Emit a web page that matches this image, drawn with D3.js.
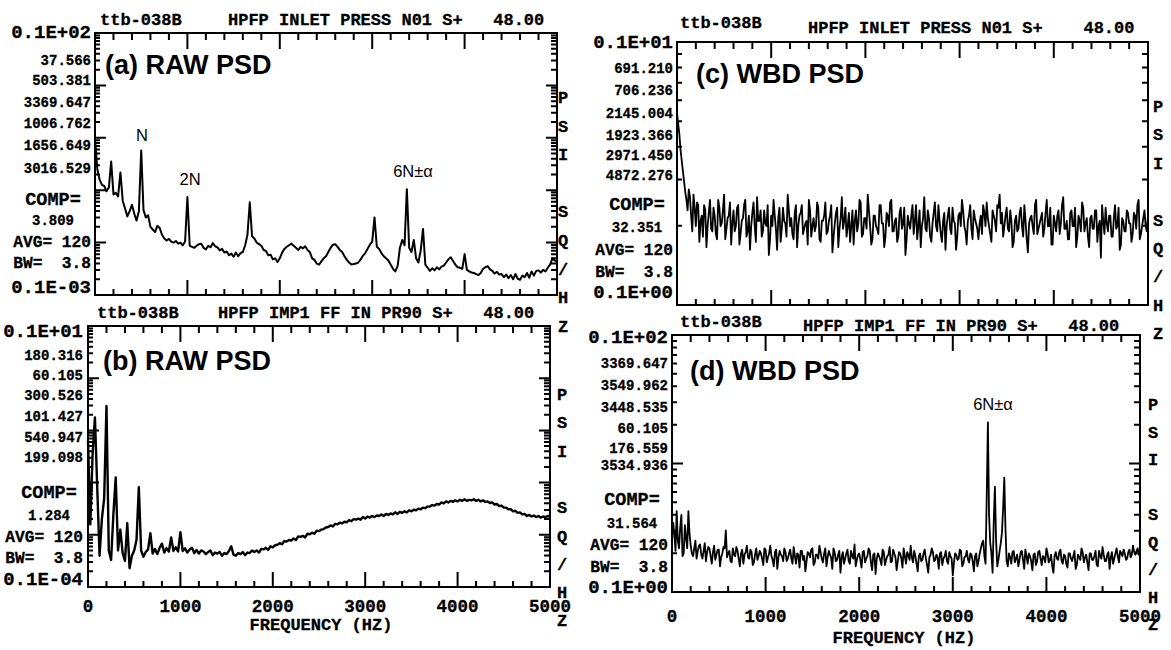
<!DOCTYPE html>
<html><head><meta charset="utf-8">
<script src="https://cdn.jsdelivr.net/npm/d3@7"></script>
<style>
html,body{margin:0;padding:0;background:#fff;}
svg{display:block;}
.mono{font-family:"Liberation Mono","DejaVu Sans Mono",monospace;font-weight:bold;fill:#000;stroke:#000;stroke-width:0.3;}
.sans{font-family:"Liberation Sans",Arial,sans-serif;fill:#000;}
</style>
</head><body>
<svg id="chart" width="1171" height="650"></svg>
<script>
// Four PSD plots of HPFP pressure signals, drawn with D3 scales.
// ---------------- DATA ----------------
const freqStep = 25;                 // Hz between spectral lines
const xMajorTicks = [0, 1000, 2000, 3000, 4000, 5000];
const xMinorStep = 200;

// log10 of PSD (PSI^2/Hz), one value every 25 Hz from 0 to 5000 Hz
const psdA_log10 = [
 -1.00,-1.60,-1.80,-1.90,-1.92,-2.02,-1.95,-1.45,
 -2.08,-2.05,-2.12,-1.66,-2.20,-2.35,-2.50,-2.40,
 -2.28,-2.45,-2.58,-2.40,-1.24,-2.38,-2.52,-2.48,
 -2.70,-2.75,-2.80,-2.68,-2.72,-2.85,-2.92,-2.96,
 -2.93,-2.98,-3.00,-2.97,-3.02,-3.00,-3.05,-2.98,
 -2.13,-3.06,-3.08,-3.10,-3.06,-3.03,-3.02,-3.10,
 -3.13,-3.06,-3.09,-3.01,-3.07,-3.09,-3.15,-3.12,
 -3.19,-3.17,-3.24,-3.21,-3.27,-3.19,-3.26,-3.20,
 -3.18,-3.05,-2.85,-2.23,-2.88,-2.92,-3.00,-3.03,
 -3.06,-3.14,-3.16,-3.24,-3.23,-3.32,-3.30,-3.37,
 -3.30,-3.19,-3.12,-3.08,-3.05,-3.02,-3.06,-3.10,
 -3.14,-3.08,-3.11,-3.07,-3.14,-3.18,-3.30,-3.33,
 -3.40,-3.42,-3.36,-3.30,-3.26,-3.18,-3.10,-3.04,
 -3.03,-3.08,-3.14,-3.18,-3.26,-3.33,-3.38,-3.42,
 -3.41,-3.40,-3.38,-3.32,-3.25,-3.20,-3.12,-3.04,
 -2.98,-2.52,-3.08,-3.12,-3.20,-3.26,-3.30,-3.34,
 -3.42,-3.50,-3.55,-3.45,-3.10,-2.95,-3.05,-1.98,
 -3.10,-3.18,-2.95,-3.30,-3.38,-3.15,-2.74,-3.42,
 -3.48,-3.54,-3.49,-3.53,-3.47,-3.51,-3.46,-3.44,
 -3.38,-3.32,-3.28,-3.35,-3.42,-3.47,-3.48,-3.50,
 -3.22,-3.52,-3.55,-3.57,-3.58,-3.60,-3.62,-3.58,
 -3.50,-3.47,-3.45,-3.51,-3.54,-3.59,-3.56,-3.61,
 -3.60,-3.66,-3.61,-3.68,-3.62,-3.70,-3.60,-3.69,
 -3.71,-3.63,-3.66,-3.58,-3.67,-3.55,-3.63,-3.54,
 -3.53,-3.57,-3.52,-3.55,-3.48,-3.42,-3.30,-3.34,
 -3.37
];
const psdB_log10 = [
 -2.20,-3.80,-2.45,-1.75,-3.10,-4.40,-3.70,-3.30,
 -1.53,-4.30,-4.48,-3.60,-2.90,-4.30,-3.90,-4.35,
 -4.50,-3.78,-4.64,-4.40,-4.30,-4.10,-3.09,-4.30,
 -4.42,-4.33,-4.28,-3.97,-4.36,-4.27,-4.37,-4.25,
 -4.17,-4.34,-4.26,-4.32,-4.05,-4.31,-4.24,-4.32,
 -3.95,-4.31,-4.26,-4.34,-4.28,-4.25,-4.35,-4.29,
 -4.36,-4.30,-4.32,-4.37,-4.33,-4.30,-4.39,-4.34,
 -4.36,-4.33,-4.40,-4.35,-4.37,-4.31,-4.22,-4.38,
 -4.40,-4.35,-4.37,-4.33,-4.39,-4.34,-4.35,-4.30,
 -4.33,-4.30,-4.34,-4.27,-4.28,-4.25,-4.29,-4.22,
 -4.24,-4.20,-4.19,-4.16,-4.18,-4.12,-4.13,-4.10,
 -4.11,-4.07,-4.10,-4.03,-4.04,-4.02,-4.05,-3.98,
 -3.99,-3.96,-3.98,-3.92,-3.93,-3.90,-3.89,-3.86,
 -3.85,-3.82,-3.84,-3.79,-3.80,-3.77,-3.78,-3.75,
 -3.76,-3.72,-3.74,-3.70,-3.71,-3.69,-3.71,-3.66,
 -3.69,-3.65,-3.67,-3.64,-3.66,-3.63,-3.64,-3.61,
 -3.64,-3.60,-3.62,-3.59,-3.61,-3.57,-3.60,-3.56,
 -3.58,-3.55,-3.57,-3.53,-3.55,-3.52,-3.53,-3.50,
 -3.51,-3.48,-3.49,-3.46,-3.46,-3.43,-3.44,-3.41,
 -3.42,-3.38,-3.40,-3.36,-3.38,-3.35,-3.37,-3.34,
 -3.36,-3.33,-3.35,-3.32,-3.35,-3.33,-3.34,-3.32,
 -3.35,-3.33,-3.36,-3.34,-3.37,-3.36,-3.39,-3.38,
 -3.42,-3.41,-3.45,-3.44,-3.48,-3.48,-3.51,-3.51,
 -3.55,-3.54,-3.58,-3.57,-3.61,-3.60,-3.64,-3.62,
 -3.65,-3.63,-3.66,-3.64,-3.67,-3.65,-3.66,-3.64,
 -3.65
];
const psdC_log10 = [
 -0.27,-0.35,-0.45,-0.53,-0.60,-0.56,-0.66,-0.58,
 -0.70,-0.62,-0.68,-0.74,-0.64,-0.70,-0.60,-0.72,
 -0.66,-0.75,-0.63,-0.69,-0.58,-0.71,-0.66,-0.77,
 -0.64,-0.70,-0.62,-0.73,-0.67,-0.60,-0.72,-0.79,
 -0.65,-0.70,-0.59,-0.68,-0.74,-0.64,-0.70,-0.81,
 -0.66,-0.60,-0.71,-0.67,-0.76,-0.63,-0.69,-0.58,
 -0.70,-0.73,-0.65,-0.78,-0.66,-0.62,-0.71,-0.68,
 -0.60,-0.74,-0.67,-0.70,-0.63,-0.76,-0.68,-0.61,
 -0.72,-0.66,-0.80,-0.69,-0.63,-0.71,-0.59,-0.68,
 -0.74,-0.65,-0.70,-0.77,-0.64,-0.69,-0.61,-0.73,
 -0.67,-0.58,-0.70,-0.75,-0.66,-0.71,-0.62,-0.69,
 -0.78,-0.65,-0.70,-0.60,-0.72,-0.67,-0.74,-0.63,
 -0.69,-0.81,-0.66,-0.71,-0.62,-0.68,-0.75,-0.64,
 -0.70,-0.59,-0.72,-0.67,-0.76,-0.65,-0.70,-0.62,
 -0.73,-0.68,-0.79,-0.66,-0.71,-0.63,-0.69,-0.74,
 -0.65,-0.60,-0.70,-0.77,-0.66,-0.71,-0.64,-0.69,
 -0.75,-0.66,-0.62,-0.70,-0.67,-0.73,-0.64,-0.68,
 -0.62,-0.58,-0.65,-0.70,-0.63,-0.72,-0.68,-0.76,
 -0.66,-0.71,-0.63,-0.74,-0.68,-0.80,-0.67,-0.70,
 -0.62,-0.73,-0.69,-0.65,-0.71,-0.60,-0.70,-0.77,
 -0.66,-0.72,-0.64,-0.69,-0.59,-0.71,-0.75,-0.65,
 -0.70,-0.63,-0.74,-0.68,-0.61,-0.72,-0.67,-0.78,
 -0.66,-0.71,-0.64,-0.70,-0.82,-0.68,-0.63,-0.72,
 -0.66,-0.74,-0.62,-0.70,-0.79,-0.67,-0.72,-0.64,
 -0.69,-0.76,-0.65,-0.71,-0.60,-0.73,-0.67,-0.70,
 -0.66
];
// in-between spectral lines of (c), at 12.5 Hz + k*25 Hz
const psdC_mid_log10 = [
 -0.31,-0.41,-0.49,-0.57,-0.64,-0.59,-0.72,-0.63,
 -0.61,-0.76,-0.66,-0.62,-0.78,-0.65,-0.71,-0.63,
 -0.73,-0.60,-0.70,-0.64,-0.75,-0.67,-0.61,-0.69,
 -0.72,-0.63,-0.77,-0.68,-0.62,-0.74,-0.66,-0.70,
 -0.61,-0.76,-0.68,-0.64,-0.72,-0.69,-0.62,-0.75,
 -0.70,-0.66,-0.79,-0.63,-0.71,-0.68,-0.74,-0.64,
 -0.67,-0.75,-0.62,-0.70,-0.65,-0.73,-0.69,-0.77,
 -0.64,-0.70,-0.72,-0.61,-0.75,-0.68,-0.66,-0.73,
 -0.68,-0.62,-0.74,-0.65,-0.78,-0.67,-0.71,-0.63,
 -0.70,-0.76,-0.64,-0.68,-0.72,-0.60,-0.74,-0.67,
 -0.71,-0.64,-0.77,-0.66,-0.70,-0.73,-0.62,-0.69,
 -0.74,-0.66,-0.61,-0.72,-0.68,-0.76,-0.65,-0.71,
 -0.63,-0.75,-0.69,-0.66,-0.73,-0.62,-0.70,-0.78,
 -0.67,-0.71,-0.64,-0.74,-0.69,-0.61,-0.72,-0.68,
 -0.76,-0.65,-0.70,-0.63,-0.73,-0.68,-0.79,-0.66,
 -0.70,-0.64,-0.72,-0.68,-0.62,-0.75,-0.67,-0.71,
 -0.69,-0.73,-0.65,-0.61,-0.70,-0.76,-0.66,-0.72,
 -0.63,-0.69,-0.74,-0.66,-0.71,-0.64,-0.78,-0.68,
 -0.72,-0.65,-0.70,-0.62,-0.75,-0.69,-0.66,-0.73,
 -0.60,-0.71,-0.67,-0.74,-0.65,-0.70,-0.63,-0.77,
 -0.69,-0.66,-0.73,-0.62,-0.71,-0.68,-0.75,-0.64,
 -0.70,-0.78,-0.66,-0.72,-0.63,-0.69,-0.74,-0.67,
 -0.71,-0.64,-0.76,-0.68,-0.62,-0.73,-0.69,-0.66,
 -0.74,-0.67,-0.71,-0.63,-0.77,-0.68,-0.72,-0.65,
 -0.69,-0.73,-0.66,-0.62,-0.75,-0.70,-0.64,-0.72
];
const psdD_log10 = [
 -0.60,-0.55,-0.37,-0.66,-0.40,-0.70,-0.58,-0.37,
 -0.64,-0.72,-0.60,-0.68,-0.63,-0.74,-0.62,-0.69,
 -0.66,-0.78,-0.64,-0.71,-0.67,-0.73,-0.65,-0.52,
 -0.70,-0.76,-0.66,-0.72,-0.68,-0.80,-0.67,-0.71,
 -0.64,-0.74,-0.69,-0.77,-0.66,-0.72,-0.70,-0.79,
 -0.67,-0.73,-0.64,-0.75,-0.69,-0.82,-0.68,-0.72,
 -0.66,-0.76,-0.70,-0.74,-0.65,-0.78,-0.71,-0.68,
 -0.75,-0.84,-0.69,-0.73,-0.66,-0.77,-0.71,-0.64,
 -0.74,-0.70,-0.80,-0.68,-0.73,-0.66,-0.76,-0.71,
 -0.85,-0.69,-0.74,-0.67,-0.78,-0.72,-0.63,-0.75,
 -0.70,-0.81,-0.68,-0.74,-0.66,-0.77,-0.71,-0.86,
 -0.70,-0.75,-0.67,-0.79,-0.72,-0.65,-0.76,-0.70,
 -0.83,-0.69,-0.74,-0.66,-0.78,-0.71,-0.64,-0.77,
 -0.72,-0.84,-0.70,-0.75,-0.67,-0.79,-0.73,-0.66,
 -0.76,-0.71,-0.82,-0.69,-0.74,-0.68,-0.78,-0.72,
 -0.87,-0.70,-0.75,-0.67,-0.80,-0.73,-0.68,-0.77,
 -0.71,-0.84,-0.70,-0.76,-0.66,-0.60,-0.78, 0.32,
 -0.62,-0.85,-0.18,-0.80,-0.68,-0.54,-0.11,-0.76,
 -0.70,-0.78,-0.68,-0.74,-0.80,-0.69,-0.75,-0.67,
 -0.78,-0.72,-0.83,-0.70,-0.76,-0.68,-0.79,-0.73,
 -0.66,-0.77,-0.71,-0.85,-0.69,-0.75,-0.67,-0.78,
 -0.72,-0.81,-0.70,-0.76,-0.68,-0.79,-0.73,-0.66,
 -0.77,-0.71,-0.83,-0.70,-0.75,-0.68,-0.80,-0.72,
 -0.65,-0.76,-0.71,-0.82,-0.69,-0.74,-0.66,-0.77,
 -0.70,-0.67,-0.75,-0.69,-0.73,-0.64,-0.71,-0.66,
 -0.69
];
// in-between spectral lines of (d), at 12.5 Hz + k*25 Hz
const psdD_mid_log10 = [
 -0.46,-0.68,-0.60,-0.50,-0.72,-0.48,-0.66,-0.55,
 -0.70,-0.66,-0.74,-0.64,-0.71,-0.68,-0.76,-0.65,
 -0.72,-0.69,-0.75,-0.67,-0.80,-0.70,-0.66,-0.73,
 -0.68,-0.77,-0.71,-0.65,-0.74,-0.70,-0.78,-0.69,
 -0.73,-0.67,-0.79,-0.71,-0.75,-0.68,-0.74,-0.66,
 -0.77,-0.70,-0.72,-0.80,-0.67,-0.73,-0.71,-0.76,
 -0.69,-0.74,-0.67,-0.78,-0.72,-0.70,-0.81,-0.68,
 -0.72,-0.76,-0.70,-0.67,-0.79,-0.71,-0.74,-0.69,
 -0.77,-0.66,-0.73,-0.71,-0.82,-0.69,-0.75,-0.68,
 -0.73,-0.78,-0.70,-0.76,-0.68,-0.74,-0.80,-0.71,
 -0.75,-0.69,-0.77,-0.72,-0.68,-0.83,-0.70,-0.74,
 -0.72,-0.79,-0.69,-0.75,-0.71,-0.77,-0.67,-0.73,
 -0.76,-0.70,-0.81,-0.72,-0.69,-0.75,-0.73,-0.68,
 -0.78,-0.72,-0.76,-0.70,-0.74,-0.85,-0.71,-0.69,
 -0.75,-0.73,-0.70,-0.79,-0.72,-0.76,-0.69,-0.74,
 -0.77,-0.71,-0.74,-0.68,-0.78,-0.72,-0.75,-0.70,
 -0.76,-0.72,-0.80,-0.70,-0.62,-0.72,-0.25,-0.40,
 -0.70,-0.45,-0.60,-0.75,-0.62,-0.35,-0.50,-0.80,
 -0.73,-0.69,-0.77,-0.71,-0.75,-0.68,-0.82,-0.72,
 -0.70,-0.76,-0.71,-0.79,-0.69,-0.74,-0.72,-0.77,
 -0.70,-0.75,-0.80,-0.72,-0.74,-0.69,-0.76,-0.71,
 -0.78,-0.70,-0.74,-0.72,-0.82,-0.71,-0.75,-0.69,
 -0.73,-0.77,-0.70,-0.75,-0.72,-0.79,-0.68,-0.74,
 -0.71,-0.76,-0.69,-0.73,-0.78,-0.70,-0.72,-0.68,
 -0.72,-0.70,-0.74,-0.67,-0.71,-0.69,-0.68,-0.71
];

// y-axis limits (PSD, PSI^2/Hz)
const yDomainA = [1e-4, 10];
const yDomainB = [1e-5, 1];
const yDomainC = [0.1, 1];
const yDomainD = [0.1, 10];

// left-side text column of each plot
const leftTextA = ["0.1E+02","37.566","503.381","3369.647","1006.762","1656.649","3016.529","COMP=","3.809","AVG= 120","BW=  3.8","0.1E-03"];
const leftTextB = ["0.1E+01","180.316","60.105","300.526","101.427","540.947","199.098","COMP=","1.284","AVG= 120","BW=  3.8","0.1E-04"];
const leftTextC = ["0.1E+01","691.210","706.236","2145.004","1923.366","2971.450","4872.276","COMP=","32.351","AVG= 120","BW=  3.8","0.1E+00"];
const leftTextD = ["0.1E+02","3369.647","3549.962","3448.535","60.105","176.559","3534.936","COMP=","31.564","AVG= 120","BW=  3.8","0.1E+00"];

const titleRun = "ttb-038B";
const titleA = "HPFP INLET PRESS N01 S+";
const titleB = "HPFP IMP1 FF IN PR90 S+";
const titleTime = "48.00";
const unitLetters = ["P","S","I","","S","Q","/","H","Z"];
const panelNames = ["(a) RAW PSD","(b) RAW PSD","(c) WBD PSD","(d) WBD PSD"];
const xAxisTitle = "FREQUENCY (HZ)";

// ---------------- LAYOUT ----------------
const leftKinds = [0,2,2,2,2,2,2,4,3,1,1,0];
const kindSize = [19, 16.2, 14, 14, 18.5];
const boxes = [
  {x0:95, x1:557, y0:33, y1:295},
  {x0:88, x1:550, y0:326, y1:587},
  {x0:677, x1:1148, y0:42, y1:305},
  {x0:672, x1:1140, y0:335, y1:592}
];

const svg = d3.select("#chart");
const isDecade = v => Math.abs(Math.log10(v) - Math.round(Math.log10(v))) < 1e-9;
const domains = [yDomainA, yDomainB, yDomainC, yDomainD];

// ---- 1) frames and inward ticks ----
const tickLayer = svg.append("g").attr("id", "ticks");
boxes.forEach((b, pi) => {
  const x = d3.scaleLinear().domain([0, 5000]).range([b.x0, b.x1]);
  const y = d3.scaleLog().domain(domains[pi]).range([b.y1, b.y0]);
  const yd = domains[pi];
  const minorX = d3.range(0, 5001, xMinorStep).filter(v => v % 1000 !== 0);
  const majorX = xMajorTicks.filter(v => v > 0 && v < 5000);
  const yt = y.ticks();
  const minorY = yt.filter(v => !isDecade(v) && v > yd[0] * 1.0001 && v < yd[1] * 0.9999);
  const majorY = yt.filter(v => isDecade(v) && v > yd[0] * 1.0001 && v < yd[1] * 0.9999);
  let d = "";
  const seg = (x1, y1, x2, y2) => { d += "M" + x1.toFixed(2) + "," + y1.toFixed(2) + "L" + x2.toFixed(2) + "," + y2.toFixed(2); };
  minorX.forEach(v => { seg(x(v), b.y1, x(v), b.y1 - 6); seg(x(v), b.y0, x(v), b.y0 + 7); });
  majorX.forEach(v => { seg(x(v), b.y1, x(v), b.y1 - 15); seg(x(v), b.y0, x(v), b.y0 + 16); });
  minorY.forEach(v => { seg(b.x0, y(v), b.x0 + 5, y(v)); seg(b.x1, y(v), b.x1 - 6, y(v)); });
  majorY.forEach(v => { seg(b.x0, y(v), b.x0 + 11, y(v)); seg(b.x1, y(v), b.x1 - 11, y(v)); });
  tickLayer.append("path").attr("d", d).attr("fill", "none").attr("stroke", "#000").attr("stroke-width", 2);
  tickLayer.append("rect").attr("x", b.x0).attr("y", b.y0).attr("width", b.x1 - b.x0).attr("height", b.y1 - b.y0)
    .attr("fill", "none").attr("stroke", "#000").attr("stroke-width", 2);
});

// ---- 2) spectra ----
const series = [
  [psdA_log10, null, 2.0],
  [psdB_log10, null, 2.4],
  [psdC_log10, psdC_mid_log10, 1.8],
  [psdD_log10, psdD_mid_log10, 1.8]
];
const dataLayer = svg.append("g").attr("id", "spectra");
series.forEach((s, pi) => {
  const b = boxes[pi];
  const x = d3.scaleLinear().domain([0, 5000]).range([b.x0, b.x1]);
  const y = d3.scaleLog().domain(domains[pi]).range([b.y1, b.y0]).clamp(true);
  const pts = s[0].map((v, i) => [i * freqStep, v]);
  if (s[1]) s[1].forEach((v, i) => pts.push([i * freqStep + freqStep / 2, v]));
  pts.sort((a, c) => a[0] - c[0]);
  const line = d3.line().x(d => x(d[0])).y(d => y(Math.pow(10, d[1])));
  dataLayer.append("path").attr("d", line(pts)).attr("fill", "none")
    .attr("stroke", "#000").attr("stroke-width", s[2]).attr("stroke-linejoin", "round");
});

// ---- 3) texts ----
const textLayout = [
 { left: leftTextA, title: titleA, gap: 3, leftY:[38,65,85,107,128,150,173,205,225,247,268,293], leftR:91, leftC:53,
   tRun:[100,25], tName:[228,25], nameXY:[105,74], units:{x:563,y:103,step:28.6} },
 { left: leftTextB, title: titleB, gap: 3, leftY:[337,360,380,400,421,442,462,498,520,542,563,585], leftR:83, leftC:49,
   tRun:[97,318], tName:[218,318], nameXY:[103,370], units:{x:562,y:400,step:28.3},
   xLabY:612, xTitle:[321,630] },
 { left: leftTextC, title: titleA, gap: 4, leftY:[48,73,95,118,140,160,180,210,232,255,277,298], leftR:673, leftC:637,
   tRun:[680,28], tName:[808,33], nameXY:[696,83], units:{x:1158,y:112,step:28.4} },
 { left: leftTextD, title: titleB, gap: 3, leftY:[343,368,390,412,433,453,470,505,528,550,572,593], leftR:668, leftC:632,
   tRun:[680,327], tName:[803,331], nameXY:[690,380], units:{x:1153,y:410,step:27.5},
   xLabY:622, xTitle:[904,643] }
];
const g = svg.append("g").attr("id", "texts");
textLayout.forEach((p, pi) => {
  const b = boxes[pi];
  const x = d3.scaleLinear().domain([0, 5000]).range([b.x0, b.x1]);
  p.left.forEach((t, i) => {
    const k = leftKinds[i];
    const centered = (k === 3 || k === 4);
    g.append("text").attr("class", "mono")
      .attr("x", centered ? p.leftC : p.leftR).attr("y", p.leftY[i])
      .attr("text-anchor", centered ? "middle" : "end")
      .attr("font-size", kindSize[k]).style("white-space", "pre").text(t);
  });
  g.append("text").attr("class", "mono").attr("x", p.tRun[0]).attr("y", p.tRun[1])
    .attr("font-size", 17).text(titleRun);
  g.append("text").attr("class", "mono").attr("x", p.tName[0]).attr("y", p.tName[1])
    .attr("font-size", 17).style("white-space", "pre")
    .text(p.title + " ".repeat(p.gap) + titleTime);
  g.append("text").attr("class", "sans").attr("x", p.nameXY[0]).attr("y", p.nameXY[1])
    .attr("font-size", 27).attr("font-weight", "bold").text(panelNames[pi]);
  unitLetters.forEach((L, i) => {
    if (!L) return;
    g.append("text").attr("class", "mono").attr("x", p.units.x).attr("y", p.units.y + i * p.units.step)
      .attr("text-anchor", "middle").attr("font-size", 17).text(L);
  });
  if (p.xLabY) {
    xMajorTicks.forEach(v => {
      g.append("text").attr("class", "mono").attr("x", x(v)).attr("y", p.xLabY)
        .attr("text-anchor", "middle").attr("font-size", 17.5).text(String(v));
    });
    g.append("text").attr("class", "mono").attr("x", p.xTitle[0]).attr("y", p.xTitle[1])
      .attr("text-anchor", "middle").attr("font-size", 17).style("white-space", "pre").text(xAxisTitle);
  }
});
const annotations = [
 {text:"N", x:142, y:141},
 {text:"2N", x:190, y:185},
 {text:"6N\u00B1\u03B1", x:413, y:177},
 {text:"6N\u00B1\u03B1", x:993, y:410}
];
annotations.forEach(a => {
  g.append("text").attr("class", "sans").attr("x", a.x).attr("y", a.y)
    .attr("text-anchor", "middle").attr("font-size", 16.5).text(a.text);
});
</script>
</body></html>
